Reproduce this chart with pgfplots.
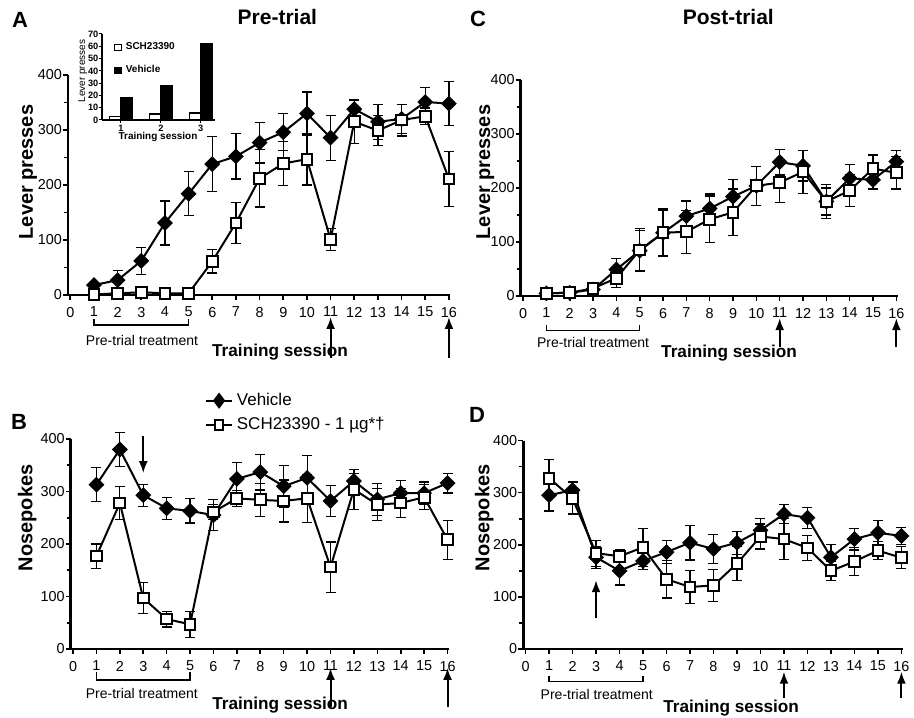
\documentclass[border=0pt]{standalone}
\usepackage{pgfplots}
\pgfplotsset{compat=1.18}
\usepackage{pgfplotstable}
\usetikzlibrary{arrows.meta}
\usepackage{fontspec}
\setmainfont{Liberation Sans}

% x  veh  vehErr  sch  schErr
\pgfplotstableread{
x vy ve sy se
1 18 5 1 3
2 27 18 3 3
3 62 25 5 3
4 131 40 3 3
5 184 40 3 3
6 238 50 61 21
7 252 41 131 37
8 277 37 212 52
9 296 34 239 40
10 330 39 247 47
11 286 41 101 20
12 338 15 315 40
13 315 32 299 27
14 320 27 318 29
15 351 26 325 15
16 348 40 211 50
}\tabA
\pgfplotstableread{
x vy ve sy se
1 5 4 5 3
2 6 3 6 3
3 12 5 14 5
4 49 20 33 17
5 84 37 85 40
6 117 42 117 44
7 148 28 119 40
8 162 27 142 43
9 184 31 155 43
10 204 36 204 36
11 248 24 210 37
12 241 28 230 40
13 175 25 175 31
14 218 25 195 30
15 215 17 236 25
16 249 21 228 30
}\tabC
\pgfplotstableread{
x vy ve sy se
1 313 32 177 23
2 380 33 278 31
3 293 21 97 30
4 268 21 57 15
5 263 23 47 25
6 255 30 261 15
7 324 32 287 15
8 337 34 284 31
9 310 40 282 40
10 326 43 287 46
11 282 30 156 48
12 320 15 304 38
13 285 31 275 31
14 297 24 278 27
15 297 21 289 24
16 316 19 208 37
}\tabB
\pgfplotstableread{
x vy ve sy se
1 295 30 328 35
2 305 17 289 30
3 176 21 184 25
4 150 27 178 12
5 169 16 195 36
6 186 22 134 36
7 204 33 119 31
8 192 28 122 31
9 204 22 164 33
10 228 23 216 24
11 259 18 211 39
12 252 20 194 24
13 176 25 150 19
14 211 21 168 27
15 223 24 189 17
16 217 16 175 21
}\tabD
\pgfplotstableread{
x sch veh
1 2.8 18.2
2 4.9 27.7
3 5.7 62.4
}\tabInset

\tikzset{
  arr/.style={line width=1pt, -{Latex[length=6pt,width=4.5pt]}},
  brk/.style={line width=0.6pt},
  brktxt/.style={font=\fontsize{7}{8}\selectfont},
}
\pgfplotsset{
  panel/.style={
    scale only axis, clip=false,
    axis lines*=left,
    axis line style={line width=1.3pt, -},
    xmin=-0.1, xmax=16.05, ymin=0, ymax=400,
    xtick={0,...,16}, ytick={0,100,...,400},
    minor y tick num=1,
    tick align=outside,
    tick style={line width=0.8pt, black},
    major tick length=2.5pt, minor tick length=2pt,
    tick label style={font=\fontsize{7.2}{8}\selectfont},
    yticklabel style={xshift=3pt},
    /pgf/number format/assume math mode=true,
    xlabel style={font=\bfseries\fontsize{8.6}{10}\selectfont, anchor=center},
    ylabel style={font=\bfseries\fontsize{10}{12}\selectfont, anchor=center},
    title style={font=\bfseries\fontsize{10.5}{12}\selectfont, anchor=center, yshift=-6pt},
  },
  veh/.style={black, line width=1pt, mark=square*, mark size=2.3pt,
    mark options={rotate=45, fill=black, solid},
    error bars/.cd, y dir=both, y explicit,
    error bar style={line width=0.6pt, black},
    error mark options={rotate=90, mark size=2.5pt, line width=0.6pt, black}},
  sch/.style={black, line width=1pt, mark=square*, mark size=2.7pt,
    mark options={fill=white, solid},
    error bars/.cd, y dir=both, y explicit,
    error bar style={line width=0.6pt, black},
    error mark options={rotate=90, mark size=2.5pt, line width=0.6pt, black}},
}

\begin{document}
\begin{tikzpicture}
\useasboundingbox (0,0) rectangle (457pt,358.5pt);

% ---------- Panel A ----------
\begin{axis}[panel, at={(33.95pt,211pt)}, anchor=south west,
  width=191.1pt, height=110pt,
  xlabel={Training session},
  xlabel style={at={(rel axis cs:0.555,-0.259)}},
  ylabel={Lever presses},
  ylabel style={at={(rel axis cs:-0.104,0.559)}},
  title={Pre-trial},
  title style={at={(rel axis cs:0.548,1.264)}},
]
\addplot+[veh] table[x=x, y=vy, y error=ve] {\tabA};
\addplot+[sch] table[x=x, y=sy, y error=se] {\tabA};
\draw[brk] (axis cs:1,-43.6) -- (axis cs:1,-54.5) -- (axis cs:5,-54.5) -- (axis cs:5,-43.6);
\node[brktxt] at (axis cs:3.03,-82) {Pre-trial treatment};
\draw[arr] (axis cs:11,-114.5) -- (axis cs:11,-40);
\draw[arr] (axis cs:16,-114.5) -- (axis cs:16,-40);
\end{axis}

% ---------- Inset ----------
\begin{axis}[scale only axis, at={(50.85pt,298.5pt)}, anchor=south west,
  width=56.65pt, height=43pt,
  axis lines*=left, axis line style={line width=0.8pt, -},
  xmin=0.516, xmax=3.36, ymin=0, ymax=70,
  xtick={1,2,3}, ytick={0,10,...,70},
  tick align=outside, tick style={line width=0.5pt, black},
  major tick length=1.5pt,
  tick label style={font=\bfseries\fontsize{4.6}{5}\selectfont, inner sep=0.8pt},
  yticklabel style={xshift=0.8pt},
  /pgf/number format/assume math mode=true,
  ybar=0pt, bar width=5.75pt,
  xlabel={Training session},
  xlabel style={at={(rel axis cs:0.497,-0.194)}, anchor=center, font=\bfseries\fontsize{5}{6}\selectfont},
  ylabel={Lever presses},
  ylabel style={at={(rel axis cs:-0.168,0.57)}, anchor=center, font=\fontsize{5}{6}\selectfont},
  legend style={at={(rel axis cs:0.109,0.953)}, anchor=north west, draw=none, fill=none,
    font=\bfseries\fontsize{5}{6}\selectfont, row sep=2.6pt, inner sep=0pt,
    legend cell align=left},
  legend image code/.code={\draw[#1, line width=0.5pt] (0pt,-1.6pt) rectangle (3.2pt,1.6pt);},
]
\addplot[draw=black, fill=white, line width=0.6pt] table[x=x, y=sch] {\tabInset};
\addlegendentry{SCH23390}
\addplot[draw=black, fill=black, line width=0.6pt] table[x=x, y=veh] {\tabInset};
\addlegendentry{Vehicle}
\end{axis}

% ---------- Panel C ----------
\begin{axis}[panel, at={(260.35pt,210.5pt)}, anchor=south west,
  width=188.4pt, height=108pt,
  xlabel={Training session},
  xlabel style={at={(rel axis cs:0.553,-0.264)}},
  ylabel={Lever presses},
  ylabel style={at={(rel axis cs:-0.094,0.574)}},
  title={Post-trial},
  title style={at={(rel axis cs:0.551,1.292)}},
]
\addplot+[veh] table[x=x, y=vy, y error=ve] {\tabC};
\addplot+[sch] table[x=x, y=sy, y error=se] {\tabC};
\draw[brk] (axis cs:1,-54) -- (axis cs:1,-64) -- (axis cs:5,-64) -- (axis cs:5,-54);
\node[brktxt] at (axis cs:3.0,-87) {Pre-trial treatment};
\draw[arr] (axis cs:11,-94) -- (axis cs:11,-41);
\draw[arr] (axis cs:16,-94) -- (axis cs:16,-41);
\end{axis}

% ---------- Panel B ----------
\begin{axis}[panel, at={(35.35pt,34pt)}, anchor=south west,
  width=189pt, height=105pt,
  xlabel={Training session},
  xlabel style={at={(rel axis cs:0.554,-0.267)}},
  ylabel={Nosepokes},
  ylabel style={at={(rel axis cs:-0.115,0.624)}},
  legend style={at={(rel axis cs:0.355,1.24)}, anchor=north west, draw=none, fill=none,
    font=\fontsize{8.5}{10}\selectfont, inner sep=0pt, row sep=0.5pt,
    legend cell align=left},
  legend image post style={xscale=0.75},
]
\addplot+[veh] table[x=x, y=vy, y error=ve] {\tabB};
\addlegendentry{Vehicle}
\addplot+[sch] table[x=x, y=sy, y error=se] {\tabB};
\addlegendentry{SCH23390 - 1 µg*†}
\draw[brk] (axis cs:1,-43) -- (axis cs:1,-59) -- (axis cs:5,-59) -- (axis cs:5,-43);
\node[brktxt] at (axis cs:2.94,-84) {Pre-trial treatment};
\draw[arr] (axis cs:11,-110) -- (axis cs:11,-36);
\draw[arr] (axis cs:16,-110) -- (axis cs:16,-36);
\draw[arr] (axis cs:3,406) -- (axis cs:3,335);
\end{axis}

% ---------- Panel D ----------
\begin{axis}[panel, at={(261.6pt,34pt)}, anchor=south west,
  width=189.7pt, height=104.2pt,
  xlabel={Training session},
  xlabel style={at={(rel axis cs:0.548,-0.283)}},
  ylabel={Nosepokes},
  ylabel style={at={(rel axis cs:-0.103,0.629)}},
]
\addplot+[veh] table[x=x, y=vy, y error=ve] {\tabD};
\addplot+[sch] table[x=x, y=sy, y error=se] {\tabD};
\draw[brk] (axis cs:1,-51) -- (axis cs:1,-63) -- (axis cs:5,-63) -- (axis cs:5,-51);
\node[brktxt] at (axis cs:3.03,-88) {Pre-trial treatment};
\draw[arr] (axis cs:11,-95) -- (axis cs:11,-43.5);
\draw[arr] (axis cs:16,-95) -- (axis cs:16,-43.5);
\draw[arr] (axis cs:3,59) -- (axis cs:3,132);
\end{axis}

% ---------- Panel letters ----------
\node[font=\bfseries\fontsize{11}{12}\selectfont] at (10pt,348.75pt) {A};
\node[font=\bfseries\fontsize{11}{12}\selectfont] at (239pt,349.25pt) {C};
\node[font=\bfseries\fontsize{11}{12}\selectfont] at (9.5pt,147.5pt) {B};
\node[font=\bfseries\fontsize{11}{12}\selectfont] at (238.5pt,151pt) {D};
\end{tikzpicture}
\end{document}
